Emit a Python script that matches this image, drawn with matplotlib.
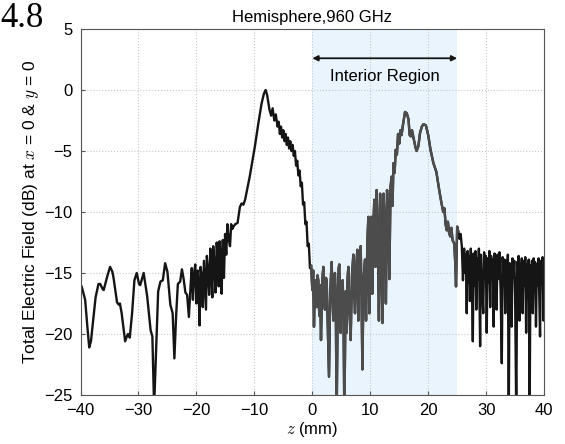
import numpy as np
import matplotlib
matplotlib.use("Agg")
import matplotlib.pyplot as plt

plt.rcParams['font.family'] = ['Liberation Sans', 'DejaVu Sans']
plt.rcParams['mathtext.fontset'] = 'cm'

# field along the z axis (z in mm, field in dB)
z_mm = [
    -40.0, -39.8, -39.2, -38.8, -38.5, -38.2, -38.0, -37.4, -36.9, -36.6,
    -36.2, -36.0, -35.4, -34.9, -34.5, -34.3, -33.7, -33.4, -33.2, -32.9,
    -32.3, -32.0, -31.8, -31.5, -31.1, -30.7, -30.3, -29.9, -29.7, -29.1,
    -28.5, -27.9, -27.6, -27.3, -26.9, -26.6, -26.2, -25.8, -25.4, -25.0,
    -24.5, -24.1, -23.8, -23.5, -23.2, -22.8, -22.5, -22.2, -21.9, -21.6,
    -21.3, -21.0, -20.8, -20.6, -20.4, -20.2, -20.0, -19.8, -19.6, -19.45,
    -19.3, -19.1, -18.9, -18.7, -18.5, -18.35, -18.2, -18.0, -17.8, -17.6,
    -17.4, -17.25, -17.1, -16.9, -16.7, -16.5, -16.3, -16.15, -16.0, -15.8,
    -15.65, -15.45, -15.25, -15.05, -14.85, -14.65, -14.45, -14.2, -14.0, -13.8,
    -13.6, -13.3, -12.9, -12.5, -12.2, -11.9, -11.6, -11.1, -10.8, -10.3,
    -9.9, -9.3, -8.75, -8.35, -8.06, -7.8, -7.4, -7.1, -6.85, -6.55,
    -6.3, -6.0, -5.8, -5.6, -5.4, -5.2, -5.0, -4.8, -4.6, -4.4,
    -4.2, -4.0, -3.8, -3.6, -3.4, -3.2, -3.0, -2.8, -2.6, -2.4,
    -2.2, -2.0, -1.8, -1.6, -1.4, -1.2, -1.0, -0.8, -0.6, -0.4,
    -0.2, 0.0, 0.15, 0.29, 0.46, 0.6, 0.75, 0.9, 1.04, 1.2,
    1.35, 1.5, 1.7, 1.9, 2.05, 2.19, 2.35, 2.48, 2.65, 2.88,
    3.1, 3.34, 3.5, 3.63, 3.78, 3.91, 4.05, 4.2, 4.4, 4.55,
    4.66, 4.78, 4.89, 5.05, 5.24, 5.38, 5.53, 5.75, 5.93, 6.08,
    6.22, 6.4, 6.62, 6.85, 7.08, 7.22, 7.37, 7.55, 7.77, 7.94,
    8.15, 8.35, 8.5, 8.64, 8.85, 9.1, 9.27, 9.5, 9.67, 9.84,
    10.0, 10.2, 10.35, 10.5, 10.7, 10.9, 11.1, 11.3, 11.5, 11.7,
    11.9, 12.1, 12.3, 12.5, 12.7, 12.9, 13.1, 13.3, 13.5, 13.7,
    13.85, 14.0, 14.2, 14.4, 14.6, 14.8, 15.0, 15.2, 15.4, 15.6,
    15.8, 16.0, 16.3, 16.6, 16.8, 17.0, 17.2, 17.5, 17.8, 18.0,
    18.3, 18.6, 18.9, 19.2, 19.6, 20.0, 20.4, 20.9, 21.4, 21.9,
    22.3, 22.6, 22.8, 23.0, 23.2, 23.4, 23.6, 23.8, 24.0, 24.2,
    24.5, 24.7, 24.8, 25.0, 25.2, 25.4, 25.6, 25.8, 26.0, 26.2,
    26.4, 26.5, 26.65, 26.8, 26.95, 27.1, 27.2, 27.35, 27.5, 27.7,
    27.85, 28.0, 28.15, 28.3, 28.45, 28.6, 28.75, 28.96, 29.1, 29.3,
    29.5, 29.65, 29.8, 29.95, 30.1, 30.25, 30.4, 30.55, 30.7, 30.85,
    31.0, 31.15, 31.3, 31.45, 31.6, 31.8, 31.95, 32.1, 32.3, 32.5,
    32.7, 32.85, 33.0, 33.15, 33.3, 33.45, 33.6, 33.75, 33.9, 34.05,
    34.25, 34.4, 34.55, 34.7, 34.85, 35.0, 35.2, 35.35, 35.5, 35.6,
    35.75, 35.9, 36.05, 36.15, 36.3, 36.45, 36.6, 36.75, 36.9, 37.05,
    37.2, 37.35, 37.5, 37.65, 37.8, 37.9, 38.05, 38.2, 38.35, 38.45,
    38.6, 38.75, 38.9, 39.05, 39.3, 39.45, 39.6, 39.75, 39.9, 40.0,
]
field_db = [
    -16.0, -16.1, -17.2, -19.5, -21.1, -20.6, -19.7, -17.0, -15.9, -15.9,
    -16.3, -16.4, -15.3, -14.5, -14.9, -15.4, -17.4, -17.6, -17.5, -18.3,
    -20.6, -20.2, -20.0, -20.3, -18.3, -15.6, -15.0, -15.9, -16.0, -15.0,
    -16.9, -19.7, -20.2, -26.0, -20.5, -16.5, -15.7, -15.6, -14.2, -14.9,
    -17.6, -18.3, -22.0, -18.5, -15.9, -15.7, -14.7, -15.5, -16.6, -16.8,
    -18.6, -16.0, -14.6, -17.2, -15.0, -14.3, -17.5, -14.8, -16.5, -19.3,
    -14.5, -15.2, -17.8, -14.0, -16.2, -18.0, -13.6, -14.8, -16.8, -13.0,
    -15.5, -17.0, -12.8, -14.2, -16.6, -12.5, -13.8, -16.1, -12.4, -14.0,
    -16.7, -12.3, -15.4, -11.8, -13.5, -11.0, -12.2, -12.8, -11.0, -11.4,
    -11.2, -11.0, -10.9, -9.6, -9.3, -9.4, -9.0, -7.8, -7.1, -5.7,
    -4.6, -2.7, -1.1, -0.3, 0.0, -0.4, -1.6, -2.1, -1.5, -2.5,
    -2.0, -3.0, -2.6, -3.6, -3.0, -3.9, -3.3, -4.2, -3.6, -4.5,
    -3.9, -4.8, -4.2, -5.0, -4.5, -5.4, -5.0, -6.2, -5.8, -7.0,
    -6.6, -7.9, -7.6, -9.4, -9.2, -11.0, -10.8, -12.8, -12.6, -14.6,
    -14.4, -16.4, -14.8, -19.4, -15.6, -17.0, -17.8, -15.2, -15.6, -18.5,
    -16.0, -20.5, -15.8, -14.5, -17.5, -18.0, -15.4, -15.6, -19.0, -23.5,
    -16.5, -14.1, -17.0, -18.9, -15.2, -15.0, -17.5, -27.0, -16.8, -14.6,
    -14.3, -17.6, -19.9, -16.0, -15.6, -18.0, -27.0, -16.5, -19.9, -15.5,
    -14.5, -17.8, -20.5, -15.2, -13.5, -16.5, -18.3, -14.8, -13.1, -18.9,
    -14.0, -12.8, -17.0, -22.9, -15.5, -13.9, -18.9, -12.5, -10.4, -18.3,
    -12.0, -10.4, -16.7, -11.5, -9.0, -14.5, -8.2, -12.0, -18.9, -8.5,
    -13.0, -19.1, -8.5, -11.0, -17.5, -8.2, -10.5, -15.5, -7.9, -7.1,
    -9.5, -6.0, -6.8, -4.9, -5.3, -3.6, -4.4, -3.3, -3.7, -3.0,
    -2.4, -1.8, -1.9, -2.4, -3.7, -3.8, -3.3, -4.0, -4.7, -5.0,
    -4.6, -3.5, -3.0, -2.8, -2.9, -3.7, -4.9, -6.0, -6.7, -8.2,
    -9.3, -10.0, -9.7, -11.0, -11.5, -10.8, -11.7, -12.0, -11.3, -12.3,
    -12.6, -14.5, -16.1, -11.2, -11.6, -12.2, -11.8, -12.8, -15.6, -13.0,
    -15.0, -13.5, -18.3, -13.2, -15.8, -13.6, -17.3, -13.0, -14.8, -20.6,
    -13.4, -16.0, -13.2, -18.0, -13.8, -15.5, -13.0, -21.0, -13.5, -16.2,
    -18.3, -13.3, -15.0, -13.6, -19.9, -13.8, -15.8, -13.2, -17.8, -13.6,
    -15.2, -13.9, -19.4, -13.4, -16.0, -18.0, -13.5, -15.5, -13.3, -16.5,
    -22.4, -13.7, -15.8, -13.9, -18.3, -14.0, -15.6, -13.5, -27.0, -14.2,
    -16.0, -19.4, -13.8, -15.4, -14.0, -16.8, -27.0, -14.1, -15.8, -13.6,
    -18.9, -14.2, -15.6, -13.8, -18.3, -14.0, -16.0, -13.7, -19.9, -14.3,
    -15.8, -13.9, -27.0, -14.4, -16.2, -14.0, -18.3, -13.8, -15.6, -14.1,
    -19.4, -14.3, -16.0, -13.8, -20.2, -14.0, -15.8, -13.7, -18.9, -14.5,
]
interior = (0, 25)
x_ticks = [-40, -30, -20, -10, 0, 10, 20, 30, 40]
y_ticks = [-25, -20, -15, -10, -5, 0, 5]

z = np.array(z_mm)
e = np.array(field_db)

fig = plt.figure(figsize=(5.65, 4.44), dpi=100)
ax = fig.add_axes([0.1425, 0.1104, 0.8205, 0.8243])

ax.axvspan(interior[0], interior[1], color='#e9f4fd', zorder=0, lw=0)
ax.plot(z, e, color='#151515', lw=1.7, zorder=2)
# the part inside the shaded region is drawn lighter
inside = (z >= interior[0] - 0.2) & (z <= interior[1] + 0.3)
ax.plot(np.where(inside, z, np.nan), e, color='#4c4c4c', lw=1.7, zorder=3)

ax.annotate('', xy=(interior[0], 2.6), xytext=(interior[1], 2.6),
            arrowprops=dict(arrowstyle='<|-|>', color='#151515', lw=1.3,
                            mutation_scale=8, shrinkA=0, shrinkB=0))
ax.text(sum(interior) / 2, 1.1, 'Interior Region', ha='center', va='center', fontsize=12)

ax.set_xlim(-40, 40)
ax.set_ylim(-25, 5)
ax.set_xticks(x_ticks)
ax.set_yticks(y_ticks)
ax.tick_params(direction='in', labelsize=12, length=3, color='#555555')
ax.tick_params(axis='x', pad=6)
ax.tick_params(axis='y', pad=6)
ax.grid(True, linestyle=':', color='#c8c8c8', lw=0.8)
ax.set_axisbelow(True)
for s in ax.spines.values():
    s.set_color('#555555')

ax.set_title('Hemisphere,960 GHz', fontsize=12, pad=5)
ax.set_xlabel('$z$ (mm)', fontsize=12, labelpad=1)
ax.set_ylabel('Total Electric Field (dB) at $x$ = 0 & $y$ = 0', fontsize=12.5, labelpad=2)

fig.text(0.0, 0.995, '4.8', fontsize=25, family='Liberation Serif', ha='left', va='top')

fig.savefig('out.png', dpi=100)
